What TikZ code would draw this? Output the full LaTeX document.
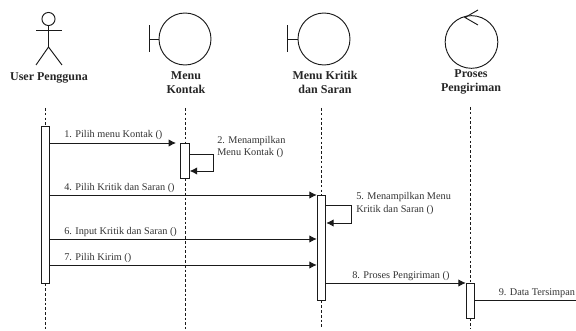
\documentclass[tikz,border=0pt]{standalone}
\usepackage{fontspec}
\setmainfont{Liberation Serif}
\usetikzlibrary{arrows.meta,positioning,calc}
\definecolor{seqline}{HTML}{1A1A1A}
\definecolor{seqtext}{HTML}{333333}
\tikzset{
  obj/.style={draw=seqline, line width=0.7pt},
  head/.style={font=\fontsize{9}{10.5}\selectfont\bfseries, align=center, text=black!85, inner sep=0pt},
  bar/.style={draw=seqline, fill=white, line width=0.7pt, minimum width=6.4pt, inner sep=0pt},
  life/.style={draw=seqline, line width=0.7pt, dash pattern=on 2pt off 1.6pt},
  msg/.style={draw=seqline, line width=0.7pt, -{Latex[length=5.5pt,width=5.5pt]}},
  lbl/.style={font=\fontsize{7.7}{9.2}\selectfont, align=left, text=seqtext, inner sep=0pt, anchor=west},
}
\begin{document}
\begin{tikzpicture}[x=0.75pt, y=-0.75pt]
  \useasboundingbox (0,0) rectangle (576,331);
  % user
  \node[obj, circle, minimum size=9.8pt, inner sep=0pt] (usrhead) at (48.5,19) {};
  \coordinate (usrhip) at (48.5,47);
  \coordinate (usrfootl) at (36,65);
  \coordinate (usrfootr) at (62,65);
  \coordinate (usrarml) at (36,30);
  \coordinate (usrarmr) at (62,30);
  \draw[obj] (usrhead) -- (usrhip);
  \draw[obj] (usrarml) -- (usrarmr);
  \draw[obj] (usrfootl) -- (usrhip) -- (usrfootr);
  \node[head] (usrname) at (49,78) {User Pengguna};
  % boundary objects
  \node[obj, circle, minimum size=39pt, inner sep=0pt] (kontak) at (185,39) {};
  \draw[obj] (kontak.west) -- ++(-9,0) coordinate (kontakbar);
  \draw[obj] ($(kontakbar)+(0,-13.5)$) -- ($(kontakbar)+(0,13.5)$);
  \node[head] (kontakname) at (186,83) {Menu\\Kontak};
  \node[obj, circle, minimum size=39pt, inner sep=0pt] (kritik) at (324,39) {};
  \draw[obj] (kritik.west) -- ++(-10,0) coordinate (kritikbar);
  \draw[obj] ($(kritikbar)+(0,-13.5)$) -- ($(kritikbar)+(0,13.5)$);
  \node[head] (kritikname) at (325,82) {Menu Kritik\\dan Saran};
  % control object
  \node[obj, circle, minimum size=39.5pt, inner sep=0pt] (proses) at (471.5,42) {};
  \coordinate (prosestip) at (465,17.5);
  \draw[obj] (478,10) -- (prosestip) -- (478,25);
  \node[head] (prosesname) at (471,82) {Proses\\Pengiriman};
  % activation bars
  \node[bar, minimum height=117.75pt] (barusr) at (45.3,204.5) {};
  \node[bar, minimum height=26.25pt] (barkontak) at (185,160.5) {};
  \node[bar, minimum height=78.75pt] (barkritik) at (321.5,247.5) {};
  \node[bar, minimum height=26.25pt] (barproses) at (470.5,300.5) {};
  % lifelines
  \foreach \nm/\xx/\ystart in {usr/45.3/108, kontak/185/108, kritik/321.5/108, proses/470.5/107}{
    \coordinate (top\nm) at (\xx,\ystart);
    \coordinate (end\nm) at (\xx,329);
    \draw[life] (top\nm) -- (bar\nm.north);
    \draw[life] (bar\nm.south) -- (end\nm);
  }
  % messages
  \draw[msg] (barusr.east |- 0,143) coordinate (m1) -- (176,143);
  \draw[msg] (barusr.east |- 0,195) -- (barkritik.west |- 0,195);
  \draw[msg] (barusr.east |- 0,239) -- (barkritik.west |- 0,239);
  \draw[msg] (barusr.east |- 0,265) -- (barkritik.west |- 0,265);
  \draw[msg] (barkritik.east |- 0,283) -- (barproses.west |- 0,283);
  \coordinate (pageedge) at (576,300);
  \draw[obj] (barproses.east |- pageedge) -- (pageedge);
  % self calls
  \draw[msg] (barkontak.east |- 0,154) -- (213,154) -- (213,171) -- (barkontak.east |- 0,171);
  \draw[msg] (barkritik.east |- 0,205.5) -- (351,205.5) -- (351,223) -- (barkritik.east |- 0,223);
  % labels
  \node[lbl] (lbla) at (64,135.5) {1. Pilih menu Kontak ()};
  \node[lbl] (lblb) at (217,147) {2. Menampilkan\\Menu Kontak ()};
  \node[lbl] (lblc) at (64,188) {4. Pilih Kritik dan Saran ()};
  \node[lbl] (lbld) at (356,203.5) {5. Menampilkan Menu\\Kritik dan Saran ()};
  \node[lbl] (lble) at (64,232) {6. Input Kritik dan Saran ()};
  \node[lbl] (lblf) at (64,258) {7. Pilih Kirim ()};
  \node[lbl] (lblg) at (352,276) {8. Proses Pengiriman ()};
  \node[lbl] (lblh) at (498.5,293) {9. Data Tersimpan};
\end{tikzpicture}
\end{document}
